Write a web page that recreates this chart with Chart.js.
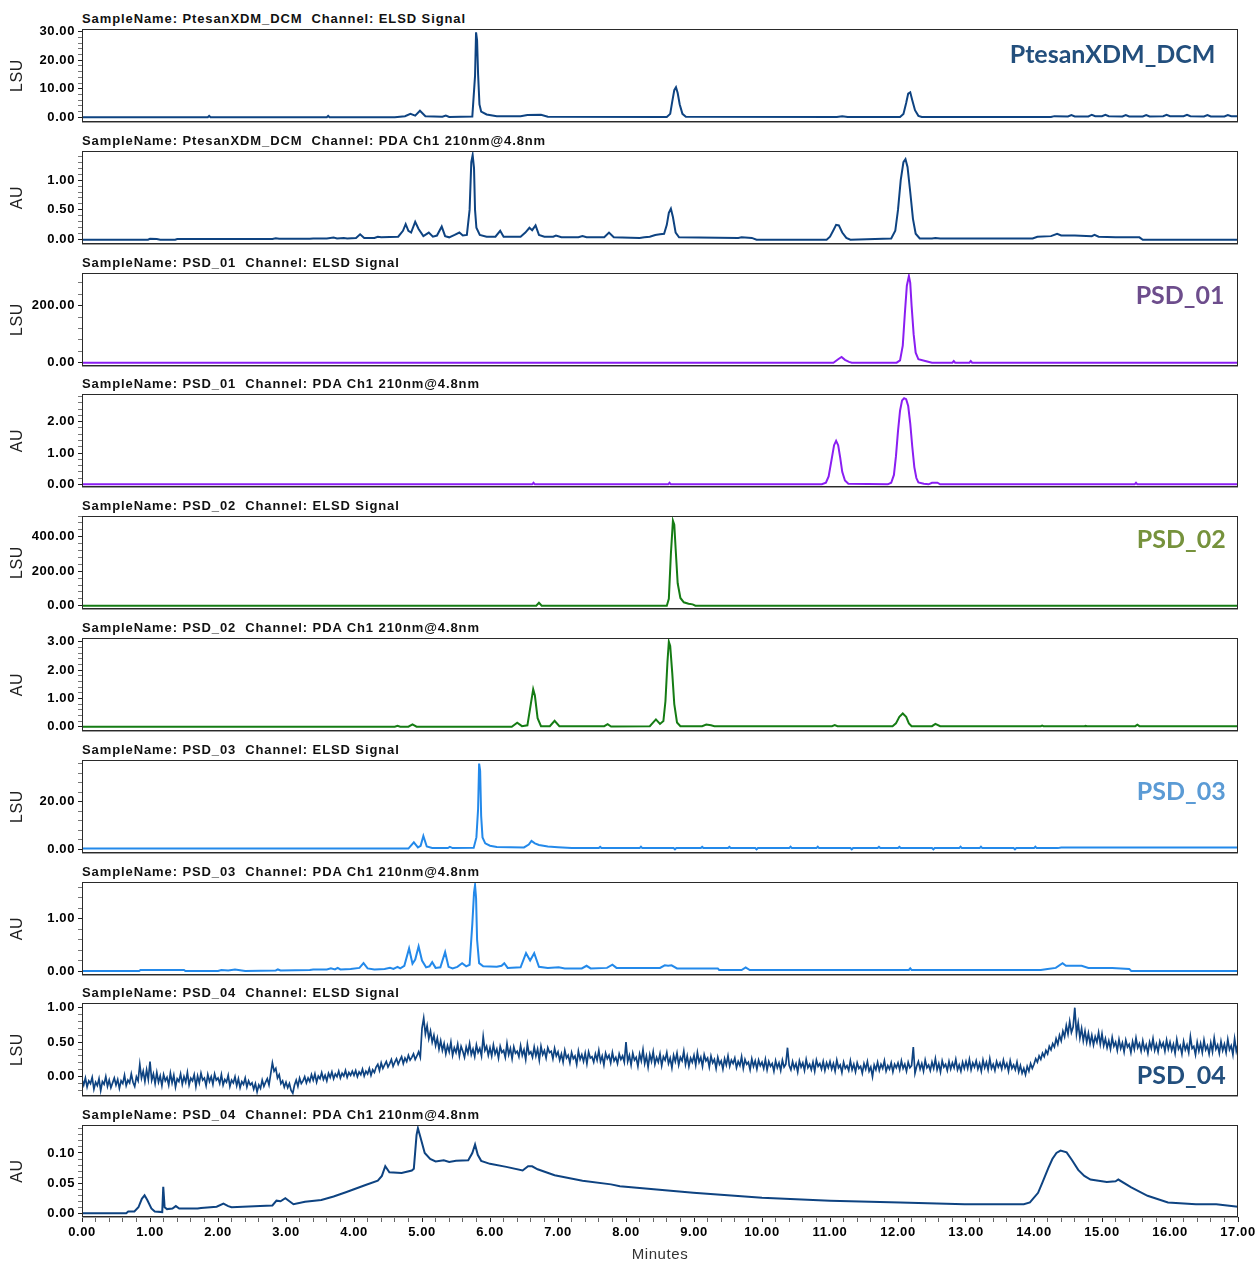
<!DOCTYPE html>
<html>
<head>
<meta charset="utf-8">
<script src="https://cdn.jsdelivr.net/npm/chart.js@4.4.1/dist/chart.umd.min.js"></script>
<style>
  html, body { margin: 0; padding: 0; background: #fff; overflow: hidden; }
  #page { position: relative; width: 1256px; height: 1261px; overflow: hidden; }
  #page canvas { position: absolute; left: 0; }
  .trace-title { position: absolute; left: 82px; font: bold 13px 'Liberation Sans', Arial, sans-serif; letter-spacing: 0.9px; line-height: 16px; color: #111; white-space: pre; }
  .sample-tag { position: absolute; font: 700 25px Lato, 'Open Sans', sans-serif; line-height: 30px; white-space: pre; }
</style>
</head>
<body>
<div id="page"></div>
<script>
// ---- Chromatogram data (minutes / detector response) ----

// PtesanXDM_DCM, ELSD (LSU)
const ptesanElsdTime = [0, 1.85, 1.87, 1.89, 3.6, 3.62, 3.64, 4.6, 4.75, 4.83, 4.9, 4.97, 5.05, 5.3, 5.35, 5.4, 5.74, 5.78, 5.795, 5.81, 5.825, 5.845, 5.87, 5.95, 6.1, 6.45, 6.55, 6.75, 6.85, 8.6, 8.65, 8.68, 8.71, 8.735, 8.76, 8.79, 8.83, 8.88, 11.1, 11.18, 11.26, 12.03, 12.08, 12.12, 12.15, 12.18, 12.21, 12.25, 12.3, 12.35, 14.25, 14.3, 14.5, 14.55, 14.6, 14.8, 14.85, 14.9, 15.0, 15.05, 15.1, 15.3, 15.35, 15.4, 15.6, 15.65, 15.7, 15.9, 15.95, 16.0, 16.2, 16.25, 16.3, 16.5, 16.55, 16.6, 16.8, 16.85, 16.9, 17];
const ptesanElsdSignal = [0, 0, 0.5, 0, 0, 0.5, 0, 0, 0.4, 1.2, 0.6, 2.3, 0.4, 0.2, 0.6, 0.1, 0.3, 14.5, 29.8, 27, 15, 4.5, 2.0, 1.0, 0.4, 0.4, 0.8, 0.9, 0.2, 0.1, 1.2, 5.5, 9.5, 10.5, 8.5, 4.5, 1.2, 0.2, 0.1, 0.4, 0.1, 0.1, 1.2, 5.0, 8.3, 8.75, 6.0, 2.5, 0.5, 0.1, 0.1, 0.4, 0.3, 0.8, 0.3, 0.3, 0.9, 0.4, 0.4, 0.9, 0.4, 0.3, 0.8, 0.3, 0.3, 0.8, 0.3, 0.4, 0.9, 0.4, 0.4, 0.9, 0.4, 0.3, 0.8, 0.3, 0.3, 0.8, 0.4, 0.4];

// PtesanXDM_DCM, PDA 210 nm (AU)
const ptesanPdaTime = [0, 0.97, 1.0, 1.1, 1.15, 1.37, 1.4, 2.8, 2.85, 2.9, 3.35, 3.4, 3.6, 3.7, 3.75, 3.85, 3.9, 4.03, 4.09, 4.15, 4.3, 4.35, 4.4, 4.65, 4.72, 4.76, 4.8, 4.84, 4.9, 4.95, 5.02, 5.1, 5.16, 5.22, 5.29, 5.34, 5.4, 5.48, 5.55, 5.6, 5.66, 5.7, 5.725, 5.745, 5.765, 5.78, 5.8, 5.85, 5.95, 6.08, 6.15, 6.2, 6.45, 6.52, 6.58, 6.62, 6.67, 6.72, 6.8, 6.93, 6.97, 7.05, 7.3, 7.36, 7.42, 7.68, 7.75, 7.82, 8.2, 8.27, 8.35, 8.43, 8.5, 8.56, 8.6, 8.63, 8.66, 8.69, 8.73, 8.78, 9.65, 9.7, 9.85, 9.92, 10.95, 11.0, 11.05, 11.09, 11.13, 11.18, 11.24, 11.3, 11.9, 11.96, 12.0, 12.04, 12.08, 12.11, 12.14, 12.18, 12.22, 12.26, 12.32, 12.5, 12.55, 12.62, 13.98, 14.05, 14.25, 14.34, 14.4, 14.6, 14.85, 14.89, 14.95, 15.2, 15.55, 15.6, 17];
const ptesanPdaSignal = [0, 0, 0.015, 0.01, 0, 0, 0.012, 0.012, 0.025, 0.015, 0.015, 0.02, 0.02, 0.035, 0.022, 0.03, 0.022, 0.03, 0.09, 0.03, 0.03, 0.05, 0.04, 0.05, 0.15, 0.26, 0.15, 0.12, 0.3, 0.18, 0.06, 0.12, 0.05, 0.07, 0.22, 0.06, 0.04, 0.08, 0.12, 0.07, 0.08, 0.5, 1.3, 1.42, 1.2, 0.5, 0.2, 0.08, 0.05, 0.05, 0.15, 0.05, 0.05, 0.12, 0.2, 0.16, 0.24, 0.08, 0.05, 0.05, 0.07, 0.04, 0.04, 0.06, 0.04, 0.04, 0.12, 0.04, 0.03, 0.04, 0.05, 0.08, 0.09, 0.1, 0.25, 0.45, 0.52, 0.38, 0.12, 0.04, 0.03, 0.04, 0.03, 0.0, 0.0, 0.05, 0.16, 0.25, 0.24, 0.12, 0.03, 0.0, 0.02, 0.15, 0.5, 1.0, 1.3, 1.35, 1.22, 0.8, 0.35, 0.1, 0.02, 0.02, 0.03, 0.02, 0.02, 0.05, 0.06, 0.1, 0.07, 0.07, 0.06, 0.08, 0.05, 0.04, 0.04, 0.0, 0.0];

// PSD_01, ELSD (LSU)
const psd01ElsdTime = [0, 11.05, 11.12, 11.17, 11.22, 11.28, 11.32, 11.98, 12.03, 12.07, 12.1, 12.13, 12.16, 12.18, 12.2, 12.23, 12.26, 12.3, 12.4, 12.5, 12.8, 12.82, 12.84, 13.05, 13.07, 13.09, 17];
const psd01ElsdSignal = [0, 0, 12, 20, 10, 3, 0, 0, 8, 60, 170, 270, 304, 280, 200, 100, 35, 12, 6, 0, 0, 6, 0, 0, 6, 0, 0];

// PSD_01, PDA 210 nm (AU)
const psd01PdaTime = [0, 6.62, 6.64, 6.66, 8.62, 8.64, 8.66, 10.88, 10.94, 10.98, 11.02, 11.06, 11.09, 11.12, 11.15, 11.18, 11.22, 11.27, 11.85, 11.9, 11.94, 11.97, 12.0, 12.03, 12.06, 12.09, 12.12, 12.15, 12.18, 12.21, 12.24, 12.27, 12.3, 12.38, 12.45, 12.5, 12.58, 12.62, 15.48, 15.5, 15.52, 17];
const psd01PdaSignal = [0, 0, 0.05, 0, 0, 0.05, 0, 0, 0.05, 0.25, 0.75, 1.25, 1.39, 1.25, 0.85, 0.4, 0.12, 0.02, 0, 0.05, 0.3, 0.9, 1.7, 2.35, 2.68, 2.75, 2.72, 2.5, 1.95, 1.2, 0.55, 0.2, 0.06, 0.02, 0, 0.05, 0.05, 0, 0, 0.05, 0, 0];

// PSD_02, ELSD (LSU)
const psd02ElsdTime = [0, 6.68, 6.72, 6.76, 8.6, 8.63, 8.66, 8.69, 8.71, 8.73, 8.76, 8.8, 8.85, 8.92, 8.98, 9.02, 17];
const psd02ElsdSignal = [0, 0, 17, 0, 0, 40, 300, 493, 470, 330, 130, 45, 20, 12, 8, 0, 0];

// PSD_02, PDA 210 nm (AU)
const psd02PdaTime = [0, 4.6, 4.64, 4.68, 4.8, 4.86, 4.92, 6.32, 6.4, 6.47, 6.55, 6.6, 6.635, 6.66, 6.7, 6.75, 6.88, 6.95, 7.02, 7.68, 7.73, 7.78, 8.35, 8.44, 8.5, 8.55, 8.58, 8.61, 8.63, 8.65, 8.68, 8.71, 8.75, 8.8, 9.12, 9.18, 9.25, 9.3, 11.03, 11.07, 11.11, 11.92, 11.97, 12.02, 12.07, 12.12, 12.16, 12.2, 12.5, 12.55, 12.62, 14.1, 14.12, 14.14, 14.74, 14.76, 14.78, 15.49, 15.52, 15.55, 17];
const psd02PdaSignal = [0, 0, 0.03, 0, 0, 0.08, 0, 0, 0.14, 0.02, 0.05, 0.8, 1.32, 1.1, 0.3, 0.02, 0.02, 0.21, 0.02, 0.02, 0.09, 0.01, 0.02, 0.26, 0.1, 0.2, 0.9, 2.3, 3.0, 2.85, 1.9, 0.8, 0.15, 0.02, 0.02, 0.08, 0.05, 0.02, 0.02, 0.06, 0.02, 0.02, 0.12, 0.35, 0.47, 0.35, 0.12, 0.02, 0.02, 0.1, 0.02, 0.02, 0.04, 0.02, 0.02, 0.03, 0.02, 0.02, 0.07, 0.02, 0.02];

// PSD_03, ELSD (LSU)
const psd03ElsdTime = [0, 4.8, 4.88, 4.94, 4.98, 5.02, 5.07, 5.15, 5.38, 5.41, 5.45, 5.76, 5.8, 5.825, 5.84, 5.855, 5.87, 5.89, 5.93, 6.0, 6.1, 6.5, 6.57, 6.61, 6.66, 6.72, 6.85, 7.0, 7.2, 7.6, 7.62, 7.64, 8.2, 8.22, 8.24, 8.7, 8.72, 8.74, 9.1, 9.12, 9.14, 9.5, 9.52, 9.54, 9.9, 9.92, 9.94, 10.4, 10.42, 10.44, 10.8, 10.82, 10.84, 11.3, 11.32, 11.34, 11.7, 11.72, 11.74, 12.0, 12.02, 12.04, 12.5, 12.52, 12.54, 12.9, 12.92, 12.94, 13.2, 13.22, 13.24, 13.7, 13.72, 13.74, 14.0, 14.02, 14.04, 14.35, 14.4, 17];
const psd03ElsdSignal = [0.3, 0.3, 2.9, 0.8, 1.5, 5.6, 1.2, 0.6, 0.5, 1.0, 0.5, 0.6, 5, 17, 36, 33, 14, 5, 2.5, 1.5, 1.0, 0.8, 2.0, 3.5, 2.5, 1.8, 1.2, 0.9, 0.6, 0.5, 1.0, 0.5, 0.5, 1.1, 0.5, 0.5, 0.0, 0.5, 0.5, 1.0, 0.5, 0.5, 1.0, 0.5, 0.5, 0.0, 0.5, 0.5, 1.1, 0.5, 0.5, 1.1, 0.5, 0.5, 0.0, 0.5, 0.5, 1.0, 0.5, 0.5, 1.0, 0.5, 0.5, 0.0, 0.5, 0.5, 1.1, 0.5, 0.5, 1.1, 0.5, 0.5, 0.0, 0.5, 0.5, 1.1, 0.5, 0.5, 0.8, 0.8];

// PSD_03, PDA 210 nm (AU)
const psd03PdaTime = [0, 0.84, 0.86, 1.5, 1.52, 2.0, 2.05, 2.15, 2.25, 2.35, 2.4, 2.85, 2.88, 2.92, 3.35, 3.4, 3.6, 3.66, 3.72, 3.76, 3.8, 3.95, 4.08, 4.14, 4.2, 4.3, 4.45, 4.53, 4.58, 4.64, 4.68, 4.74, 4.81, 4.86, 4.9, 4.95, 5.0, 5.06, 5.11, 5.15, 5.2, 5.27, 5.34, 5.39, 5.45, 5.52, 5.59, 5.65, 5.7, 5.74, 5.765, 5.78, 5.795, 5.81, 5.84, 5.9, 6.1, 6.17, 6.21, 6.26, 6.45, 6.53, 6.59, 6.65, 6.72, 6.85, 7.01, 7.1, 7.35, 7.42, 7.48, 7.72, 7.8, 7.86, 8.35, 8.5, 8.57, 8.62, 8.67, 8.75, 9.35, 9.37, 9.7, 9.76, 9.82, 12.16, 12.18, 12.2, 14.1, 14.2, 14.32, 14.42, 14.47, 14.7, 14.8, 15.15, 15.4, 15.43, 17];
const psd03PdaSignal = [0, 0, 0.02, 0.02, 0, 0, 0.02, 0.01, 0.03, 0.01, 0, 0.01, 0.03, 0.01, 0.02, 0.03, 0.03, 0.05, 0.03, 0.06, 0.03, 0.04, 0.06, 0.15, 0.05, 0.03, 0.04, 0.06, 0.04, 0.08, 0.05, 0.1, 0.43, 0.14, 0.22, 0.47, 0.2, 0.07, 0.09, 0.17, 0.06, 0.07, 0.36, 0.08, 0.05, 0.08, 0.15, 0.09, 0.12, 0.9, 1.5, 1.64, 1.4, 0.6, 0.15, 0.09, 0.08, 0.1, 0.15, 0.06, 0.07, 0.34, 0.2, 0.34, 0.08, 0.06, 0.07, 0.05, 0.05, 0.1, 0.05, 0.06, 0.12, 0.06, 0.06, 0.06, 0.11, 0.1, 0.11, 0.05, 0.05, 0.02, 0.02, 0.07, 0.02, 0.02, 0.05, 0.02, 0.02, 0.04, 0.06, 0.15, 0.1, 0.1, 0.06, 0.06, 0.04, 0.0, 0.0];

// PSD_04, ELSD (LSU) - noisy trace, one reading every 0.025 min (one row per minute)
const psd04ElsdStep = 0.025;
const psd04ElsdSignal = [
  -0.04, -0.12, -0.02, -0.15, -0.06, -0.10, -0.01, -0.18, -0.08, -0.13, -0.03, -0.20, -0.07, -0.11, 0.00, -0.14, -0.05, -0.16, -0.09, -0.02, -0.12, -0.04, -0.17, -0.06, -0.10, 0.02, -0.13, -0.05, -0.09, 0.04, -0.08, -0.14, 0.00, -0.06, 0.18, -0.02, 0.08, -0.07, 0.10, -0.04,
  0.22, -0.05, 0.04, -0.10, 0.06, -0.08, 0.01, -0.13, 0.03, -0.06, -0.01, -0.12, 0.05, -0.09, 0.02, -0.15, -0.03, -0.07, 0.04, -0.11, 0.00, -0.08, 0.06, -0.12, -0.02, -0.06, 0.03, -0.14, 0.01, -0.09, 0.05, -0.05, -0.02, -0.13, 0.03, -0.07, 0.00, -0.11, 0.04, -0.05,
  -0.02, -0.10, 0.03, -0.12, -0.04, -0.08, 0.02, -0.14, -0.05, -0.09, 0.00, -0.13, -0.03, -0.16, -0.07, -0.11, -0.02, -0.15, -0.06, -0.12, -0.09, -0.18, -0.10, -0.22, -0.12, -0.17, -0.05, -0.14, -0.08, -0.03, -0.12, 0.04, 0.20, 0.08, 0.12, -0.02, 0.03, -0.10, -0.06, -0.15,
  -0.08, -0.16, -0.10, -0.20, -0.24, -0.12, -0.05, -0.14, -0.02, -0.10, -0.06, 0.00, -0.09, -0.02, -0.07, 0.03, -0.05, 0.04, -0.08, 0.01, -0.03, 0.06, -0.04, 0.02, -0.06, 0.05, -0.01, 0.07, -0.03, 0.04, 0.00, 0.08, -0.02, 0.05, 0.01, 0.09, -0.01, 0.06, 0.02, 0.08,
  0.02, 0.09, 0.00, 0.07, 0.03, 0.11, 0.01, 0.08, 0.04, 0.12, 0.02, 0.10, 0.06, 0.14, 0.18, 0.09, 0.20, 0.12, 0.17, 0.22, 0.14, 0.19, 0.25, 0.15, 0.21, 0.26, 0.18, 0.24, 0.29, 0.19, 0.27, 0.22, 0.31, 0.24, 0.28, 0.33, 0.25, 0.30, 0.36, 0.28,
  0.70, 0.85, 0.62, 0.74, 0.55, 0.66, 0.50, 0.60, 0.45, 0.56, 0.40, 0.52, 0.38, 0.48, 0.33, 0.45, 0.36, 0.50, 0.31, 0.42, 0.35, 0.47, 0.30, 0.44, 0.37, 0.28, 0.43, 0.34, 0.48, 0.32, 0.40, 0.29, 0.46, 0.35, 0.41, 0.30, 0.58, 0.38, 0.44, 0.31,
  0.42, 0.30, 0.46, 0.33, 0.40, 0.27, 0.44, 0.35, 0.38, 0.28, 0.48, 0.32, 0.41, 0.26, 0.43, 0.34, 0.37, 0.29, 0.45, 0.31, 0.39, 0.25, 0.47, 0.33, 0.36, 0.28, 0.43, 0.30, 0.40, 0.24, 0.44, 0.32, 0.38, 0.27, 0.42, 0.35, 0.37, 0.26, 0.41, 0.30,
  0.36, 0.24, 0.33, 0.21, 0.38, 0.27, 0.31, 0.20, 0.35, 0.26, 0.30, 0.18, 0.37, 0.25, 0.32, 0.22, 0.34, 0.19, 0.36, 0.27, 0.29, 0.21, 0.33, 0.24, 0.38, 0.22, 0.30, 0.17, 0.34, 0.26, 0.31, 0.20, 0.35, 0.23, 0.28, 0.19, 0.33, 0.25, 0.30, 0.21,
  0.50, 0.22, 0.31, 0.17, 0.34, 0.24, 0.28, 0.15, 0.33, 0.23, 0.39, 0.19, 0.30, 0.14, 0.32, 0.22, 0.36, 0.18, 0.28, 0.21, 0.33, 0.16, 0.29, 0.24, 0.35, 0.19, 0.27, 0.13, 0.31, 0.22, 0.34, 0.17, 0.28, 0.23, 0.37, 0.18, 0.30, 0.15, 0.27, 0.21,
  0.31, 0.17, 0.35, 0.21, 0.28, 0.15, 0.32, 0.23, 0.27, 0.14, 0.30, 0.20, 0.25, 0.12, 0.28, 0.18, 0.23, 0.11, 0.26, 0.17, 0.30, 0.15, 0.24, 0.19, 0.27, 0.13, 0.22, 0.16, 0.29, 0.12, 0.25, 0.18, 0.21, 0.10, 0.26, 0.15, 0.23, 0.11, 0.24, 0.16,
  0.21, 0.12, 0.25, 0.10, 0.22, 0.15, 0.19, 0.08, 0.23, 0.13, 0.20, 0.09, 0.24, 0.14, 0.18, 0.42, 0.16, 0.10, 0.22, 0.12, 0.19, 0.07, 0.23, 0.14, 0.20, 0.09, 0.25, 0.13, 0.18, 0.10, 0.21, 0.08, 0.24, 0.15, 0.19, 0.11, 0.22, 0.09, 0.20, 0.13,
  0.22, 0.11, 0.19, 0.08, 0.24, 0.13, 0.17, 0.06, 0.21, 0.12, 0.16, 0.09, 0.23, 0.10, 0.18, 0.07, 0.20, 0.12, 0.15, 0.05, 0.19, 0.11, 0.22, 0.08, 0.14, 0.00, 0.17, 0.10, 0.21, 0.09, 0.18, 0.12, 0.23, 0.08, 0.16, 0.11, 0.20, 0.07, 0.18, 0.13,
  0.20, 0.10, 0.23, 0.12, 0.18, 0.08, 0.21, 0.13, 0.16, 0.43, 0.05, 0.15, 0.22, 0.11, 0.19, 0.08, 0.24, 0.13, 0.17, 0.09, 0.21, 0.12, 0.26, 0.10, 0.19, 0.07, 0.23, 0.14, 0.18, 0.09, 0.22, 0.11, 0.20, 0.13, 0.25, 0.10, 0.17, 0.08, 0.21, 0.12,
  0.22, 0.12, 0.25, 0.10, 0.20, 0.14, 0.23, 0.11, 0.19, 0.08, 0.24, 0.13, 0.21, 0.10, 0.26, 0.12, 0.18, 0.09, 0.22, 0.14, 0.20, 0.11, 0.24, 0.13, 0.19, 0.08, 0.23, 0.12, 0.17, 0.10, 0.21, 0.07, 0.16, 0.05, 0.12, 0.03, 0.15, 0.08, 0.19, 0.12,
  0.18, 0.26, 0.21, 0.30, 0.25, 0.34, 0.29, 0.38, 0.33, 0.44, 0.39, 0.48, 0.43, 0.55, 0.47, 0.60, 0.52, 0.66, 0.58, 0.74, 0.62, 0.80, 0.64, 0.72, 1.00, 0.62, 0.78, 0.56, 0.70, 0.52, 0.66, 0.50, 0.63, 0.48, 0.60, 0.46, 0.58, 0.50, 0.64, 0.47,
  0.62, 0.45, 0.55, 0.42, 0.52, 0.40, 0.57, 0.44, 0.50, 0.38, 0.54, 0.41, 0.49, 0.36, 0.53, 0.43, 0.47, 0.35, 0.51, 0.40, 0.56, 0.42, 0.48, 0.37, 0.52, 0.39, 0.46, 0.34, 0.50, 0.41, 0.55, 0.38, 0.47, 0.36, 0.51, 0.43, 0.49, 0.37, 0.53, 0.40,
  0.50, 0.38, 0.47, 0.34, 0.54, 0.40, 0.45, 0.33, 0.51, 0.39, 0.46, 0.35, 0.58, 0.41, 0.44, 0.32, 0.50, 0.37, 0.48, 0.35, 0.53, 0.39, 0.45, 0.33, 0.49, 0.36, 0.56, 0.40, 0.46, 0.34, 0.51, 0.38, 0.47, 0.35, 0.54, 0.39, 0.45, 0.32, 0.55, 0.37,
  0.47
];

// PSD_04, PDA 210 nm (AU)
const psd04PdaTime = [0, 0.65, 0.68, 0.77, 0.83, 0.88, 0.92, 0.96, 1.02, 1.07, 1.18, 1.195, 1.215, 1.25, 1.33, 1.38, 1.43, 1.7, 1.75, 1.98, 2.08, 2.15, 2.2, 2.62, 2.8, 2.86, 2.92, 2.99, 3.05, 3.11, 3.28, 3.52, 3.7, 3.88, 4.0, 4.17, 4.35, 4.41, 4.46, 4.52, 4.7, 4.85, 4.88, 4.92, 4.94, 4.98, 5.04, 5.12, 5.2, 5.32, 5.4, 5.5, 5.68, 5.74, 5.78, 5.82, 5.87, 6.0, 6.24, 6.48, 6.56, 6.62, 6.7, 6.95, 7.36, 7.78, 7.91, 8.99, 10.0, 11.0, 12.03, 12.98, 13.85, 13.94, 14.06, 14.12, 14.21, 14.27, 14.33, 14.39, 14.48, 14.56, 14.65, 14.74, 14.83, 15.07, 15.2, 15.24, 15.43, 15.67, 15.97, 16.38, 16.68, 17.0];
const psd04PdaSignal = [0, 0, 0.003, 0.003, 0.01, 0.024, 0.03, 0.022, 0.008, 0.003, 0.002, 0.044, 0.01, 0.007, 0.008, 0.012, 0.008, 0.008, 0.009, 0.011, 0.016, 0.012, 0.01, 0.012, 0.013, 0.021, 0.02, 0.025, 0.02, 0.015, 0.019, 0.022, 0.028, 0.035, 0.04, 0.047, 0.054, 0.062, 0.078, 0.068, 0.067, 0.071, 0.074, 0.13, 0.141, 0.125, 0.1, 0.09, 0.086, 0.088, 0.085, 0.087, 0.088, 0.1, 0.114, 0.097, 0.087, 0.082, 0.077, 0.071, 0.078, 0.078, 0.073, 0.063, 0.054, 0.048, 0.045, 0.034, 0.026, 0.021, 0.018, 0.015, 0.015, 0.018, 0.034, 0.05, 0.075, 0.09, 0.1, 0.104, 0.101, 0.088, 0.072, 0.062, 0.056, 0.052, 0.053, 0.056, 0.043, 0.029, 0.018, 0.015, 0.015, 0.011];

// Axis tick labels
const timeTicks = [0, 1, 2, 3, 4, 5, 6, 7, 8, 9, 10, 11, 12, 13, 14, 15, 16, 17];
const ptesanElsdTicks = [0, 10, 20, 30];
const ptesanPdaTicks = [0, 0.5, 1.0];
const psd01ElsdTicks = [0, 200];
const psd01PdaTicks = [0, 1, 2];
const psd02ElsdTicks = [0, 200, 400];
const psd02PdaTicks = [0, 1, 2, 3];
const psd03ElsdTicks = [0, 20];
const psd03PdaTicks = [0, 1];
const psd04ElsdTicks = [0, 0.5, 1.0];
const psd04PdaTicks = [0, 0.05, 0.10];

// ---- Layout / styling ----
const PLOT_LEFT = 82, PLOT_RIGHT = 1238, FRAME_H = 93, PAD = 14, PAGE_W = 1256, CANVAS_W = 1290;
const NAVY = '#0e4381', PURPLE = '#8a1ef2', GREEN = '#157c14', SKY = '#2389ea';
const TICK_FONT = { family: "'Liberation Sans', Arial, sans-serif", size: 13, weight: 'bold' };

const panels = [
  { title: 'SampleName: PtesanXDM_DCM  Channel: ELSD Signal', unit: 'LSU', time: ptesanElsdTime, signal: ptesanElsdSignal, ticks: ptesanElsdTicks, minor: 2, min: -1.65, max: 30.95, color: NAVY, top: 29 },
  { title: 'SampleName: PtesanXDM_DCM  Channel: PDA Ch1 210nm@4.8nm', unit: 'AU', time: ptesanPdaTime, signal: ptesanPdaSignal, ticks: ptesanPdaTicks, minor: 0.1, min: -0.072, max: 1.488, color: NAVY, top: 151 },
  { title: 'SampleName: PSD_01  Channel: ELSD Signal', unit: 'LSU', time: psd01ElsdTime, signal: psd01ElsdSignal, ticks: psd01ElsdTicks, minor: 40, min: -11.6, max: 314.7, color: PURPLE, top: 273 },
  { title: 'SampleName: PSD_01  Channel: PDA Ch1 210nm@4.8nm', unit: 'AU', time: psd01PdaTime, signal: psd01PdaSignal, ticks: psd01PdaTicks, minor: 0.2, min: -0.086, max: 2.885, color: PURPLE, top: 394 },
  { title: 'SampleName: PSD_02  Channel: ELSD Signal', unit: 'LSU', time: psd02ElsdTime, signal: psd02ElsdSignal, ticks: psd02ElsdTicks, minor: 40, min: -19, max: 520, color: GREEN, top: 516 },
  { title: 'SampleName: PSD_02  Channel: PDA Ch1 210nm@4.8nm', unit: 'AU', time: psd02PdaTime, signal: psd02PdaSignal, ticks: psd02PdaTicks, minor: 0.2, min: -0.15, max: 3.13, color: GREEN, top: 638 },
  { title: 'SampleName: PSD_03  Channel: ELSD Signal', unit: 'LSU', time: psd03ElsdTime, signal: psd03ElsdSignal, ticks: psd03ElsdTicks, minor: 4, min: -1.55, max: 37.5, color: SKY, top: 760 },
  { title: 'SampleName: PSD_03  Channel: PDA Ch1 210nm@4.8nm', unit: 'AU', time: psd03PdaTime, signal: psd03PdaSignal, ticks: psd03PdaTicks, minor: 0.2, min: -0.076, max: 1.70, color: SKY, top: 882 },
  { title: 'SampleName: PSD_04  Channel: ELSD Signal', unit: 'LSU', time: psd04ElsdSignal.map((v, i) => i * psd04ElsdStep), signal: psd04ElsdSignal, ticks: psd04ElsdTicks, minor: 0.1, min: -0.28, max: 1.068, color: NAVY, top: 1003, width: 1.7 },
  { title: 'SampleName: PSD_04  Channel: PDA Ch1 210nm@4.8nm', unit: 'AU', time: psd04PdaTime, signal: psd04PdaSignal, ticks: psd04PdaTicks, minor: 0.01, min: -0.0061, max: 0.1464, color: NAVY, top: 1125, xAxis: true }
];

const sampleTags = [
  { text: 'PtesanXDM_DCM', color: '#234f7d', right: 1215.5, capCenter: 54 },
  { text: 'PSD_01', color: '#6d4d8c', right: 1224.5, capCenter: 295 },
  { text: 'PSD_02', color: '#76923c', right: 1225.7, capCenter: 538.3 },
  { text: 'PSD_03', color: '#5b9bd5', right: 1225.7, capCenter: 790.7 },
  { text: 'PSD_04', color: '#234f7d', right: 1225.7, capCenter: 1075 }
];

function tickValues(min, max, step) {
  const out = [];
  const first = Math.ceil(min / step - 1e-9);
  const last = Math.floor(max / step + 1e-9);
  for (let k = first; k <= last; k++) out.push(+(k * step).toFixed(6));
  return out;
}
const isMajor = (v, majors) => majors.some(m => Math.abs(m - v) < 1e-7);

// frame around every plot area
const framePlugin = {
  id: 'frame',
  afterDatasetsDraw(chart) {
    const { ctx, chartArea: a } = chart;
    ctx.save();
    ctx.strokeStyle = '#2a2a2a';
    ctx.lineWidth = 1;
    ctx.strokeRect(a.left + 0.5, a.top + 0.5, a.right - a.left - 1, a.bottom - a.top - 1);
    ctx.strokeStyle = '#9c9c9c';
    ctx.beginPath();
    ctx.moveTo(a.left, a.bottom + 0.5);
    ctx.lineTo(a.right, a.bottom + 0.5);
    ctx.stroke();
    ctx.restore();
  }
};
const spacingPlugin = {
  id: 'spacing',
  beforeLayout(chart) { chart.ctx.letterSpacing = '0.6px'; },
  beforeDraw(chart) { chart.ctx.letterSpacing = '0.6px'; }
};

const page = document.getElementById('page');

panels.forEach(p => {
  const title = document.createElement('div');
  title.className = 'trace-title';
  title.style.top = (p.top - 18) + 'px';
  title.textContent = p.title;
  page.appendChild(title);

  const canvas = document.createElement('canvas');
  const height = p.xAxis ? (1264 - p.top + PAD) : (FRAME_H + 2 * PAD);
  canvas.width = CANVAS_W;
  canvas.height = height;
  canvas.style.width = CANVAS_W + 'px';
  canvas.style.height = height + 'px';
  canvas.style.top = (p.top - PAD) + 'px';
  page.appendChild(canvas);

  const xScale = p.xAxis ? {
    type: 'linear', min: 0, max: 17,
    afterBuildTicks: s => { s.ticks = tickValues(0, 17, 0.2).map(v => ({ value: v })); },
    afterFit: s => { s.height = 47; },
    ticks: {
      autoSkip: false, maxRotation: 0, minRotation: 0, padding: 3, color: '#000', font: TICK_FONT,
      callback: v => isMajor(v, timeTicks) ? v.toFixed(2) : ''
    },
    grid: {
      drawOnChartArea: false, drawTicks: true, tickLength: 5,
      tickColor: c => isMajor(c.tick.value, timeTicks) ? '#222' : '#666'
    },
    border: { display: false },
    title: { display: true, text: 'Minutes', color: '#333', font: { family: "'Liberation Sans', Arial, sans-serif", size: 15 }, padding: { top: 0, bottom: 0 } }
  } : { type: 'linear', min: 0, max: 17, display: false };

  const chart = new Chart(canvas, {
    type: 'line',
    data: {
      datasets: [{
        data: p.time.map((t, i) => ({ x: t, y: p.signal[i] })),
        borderColor: p.color,
        borderWidth: p.width || 2,
        borderJoin: 'round',
        pointRadius: 0,
        tension: 0,
        fill: false
      }]
    },
    options: {
      responsive: false,
      animation: false,
      parsing: false,
      normalized: true,
      layout: { padding: { top: PAD, bottom: p.xAxis ? 0 : PAD, left: 0, right: CANVAS_W - PLOT_RIGHT } },
      plugins: { legend: { display: false }, tooltip: { enabled: false } },
      scales: {
        x: xScale,
        y: {
          type: 'linear', min: p.min, max: p.max,
          afterBuildTicks: s => { s.ticks = tickValues(p.min, p.max, p.minor).map(v => ({ value: v })); },
          afterFit: s => { s.width = PLOT_LEFT; },
          ticks: {
            autoSkip: false, padding: 3, color: '#000', font: TICK_FONT,
            callback: v => isMajor(v, p.ticks) ? v.toFixed(2) : ''
          },
          grid: {
            drawOnChartArea: false, drawTicks: true, tickLength: 4,
            tickColor: c => isMajor(c.tick.value, p.ticks) ? '#222' : '#777'
          },
          border: { display: false },
          title: { display: true, text: p.unit, color: '#222', font: { family: "'Liberation Sans', Arial, sans-serif", size: 16 }, padding: { top: 8, bottom: 0 } }
        }
      }
    },
    plugins: [spacingPlugin, framePlugin]
  });

  // keep the plot frame at the reference position
  canvas.style.top = (p.top - chart.chartArea.top) + 'px';
});

sampleTags.forEach(t => {
  const tag = document.createElement('div');
  tag.className = 'sample-tag';
  tag.textContent = t.text;
  tag.style.color = t.color;
  tag.style.right = (PAGE_W - t.right) + 'px';
  tag.style.top = (t.capCenter - 15.7) + 'px';
  page.appendChild(tag);
});
</script>
</body>
</html>
